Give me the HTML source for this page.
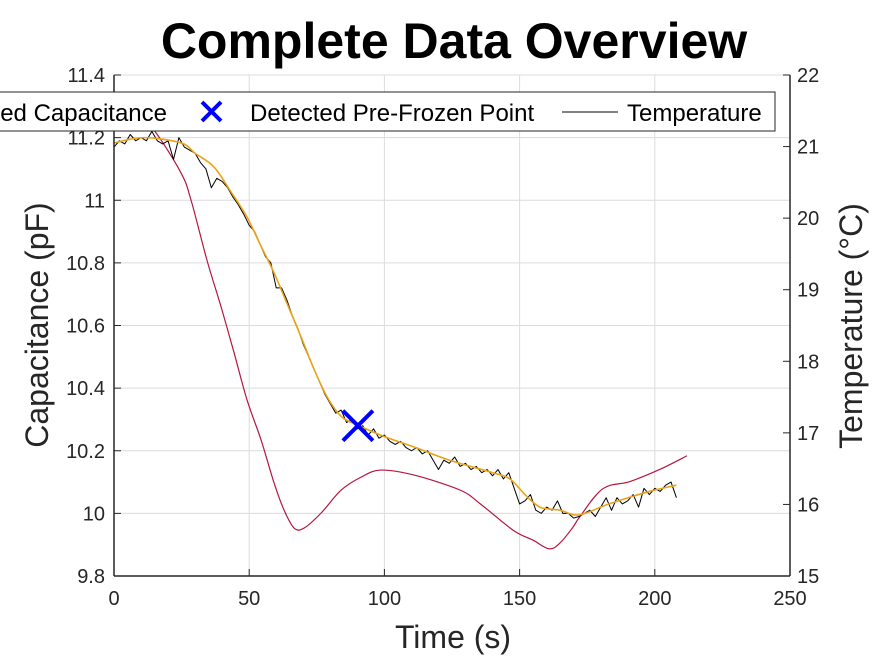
<!DOCTYPE html>
<html><head><meta charset="utf-8"><style>
body{margin:0;background:#fff;}
svg{display:block;font-family:"Liberation Sans",Arial,sans-serif;}
</style></head><body>
<svg id="chart" width="875" height="656" viewBox="0 0 875 656"></svg>
<script>
const xTicks=[0,50,100,150,200,250];
const yLeftTicks=[9.8,10,10.2,10.4,10.6,10.8,11,11.2,11.4];
const yLeftLabels=["9.8","10","10.2","10.4","10.6","10.8","11","11.2","11.4"];
const yRightTicks=[15,16,17,18,19,20,21,22];
const rawTime=[];
for(let i=0;i<=104;i++)rawTime.push(i*2);
const rawCap=[11.17,11.19,11.18,11.21,11.19,11.20,11.19,11.22,11.19,11.18,11.19,11.13,11.20,11.17,11.16,11.15,11.12,11.10,11.04,11.07,11.06,11.04,11.01,10.985,10.955,10.92,10.90,10.86,10.82,10.80,10.72,10.72,10.68,10.63,10.59,10.54,10.50,10.46,10.42,10.38,10.35,10.32,10.33,10.29,10.30,10.27,10.28,10.25,10.27,10.24,10.25,10.23,10.22,10.23,10.21,10.20,10.21,10.19,10.20,10.17,10.14,10.17,10.16,10.18,10.15,10.16,10.14,10.15,10.13,10.14,10.12,10.14,10.11,10.13,10.08,10.03,10.04,10.06,10.01,10.00,10.02,10.01,10.04,10.00,10.00,9.985,9.99,10.00,10.01,9.99,10.02,10.05,10.01,10.05,10.03,10.04,10.06,10.02,10.08,10.06,10.08,10.07,10.09,10.10,10.05];
const smoothTime=[0,11,24.8,30,37,43,49.2,54,59.2,64,69.2,74,78.8,84,89.8,100,111,124,140,146.4,152,157.5,165,172,183,198,208];
const smoothCap=[11.183,11.20,11.183,11.15,11.106,11.03,10.946,10.86,10.768,10.67,10.563,10.46,10.372,10.31,10.283,10.245,10.212,10.17,10.13,10.11,10.06,10.02,10.01,9.995,10.03,10.07,10.09];
const tempTime=[0,8,14.8,24.8,28.5,34.4,39.6,44.4,49.2,54.4,59.2,62.9,66.6,70.3,76.6,84,91.3,98.7,111,128,135.4,147.6,155,160.9,164.9,169.7,172.3,180.8,190.8,201.9,211.9];
const tempVal=[21.6,21.45,21.23,20.63,20.25,19.41,18.76,18.12,17.46,16.90,16.30,15.92,15.67,15.67,15.88,16.20,16.38,16.48,16.41,16.2,16.01,15.64,15.50,15.38,15.46,15.68,15.83,16.22,16.32,16.49,16.68];
const markerTime=[90.2];
const markerCap=[10.28];

const L=114,R=790,T=75,B=576;
const X=t=>L+(t-0)/250*(R-L);
const YL=v=>B-(v-9.8)/1.6*(B-T);
const YR=v=>B-(v-15)/7*(B-T);
const svg=document.getElementById('chart');
const NS='http://www.w3.org/2000/svg';
function mk(tag,attrs,parent){const e=document.createElementNS(NS,tag);for(const k in attrs)e.setAttribute(k,attrs[k]);(parent||svg).appendChild(e);return e;}

const grid=mk('g',{});


xTicks.forEach(t=>mk('line',{x1:X(t),x2:X(t),y1:T,y2:B,stroke:'#dcdcdc','stroke-width':1},grid));
yLeftTicks.forEach(v=>mk('line',{x1:L,x2:R,y1:YL(v),y2:YL(v),stroke:'#dcdcdc','stroke-width':1},grid));

function poly(xs,ys,fy,color,w,name){
  const p=mk('polyline',{points:xs.map((t,i)=>X(t)+','+fy(ys[i])).join(' '),fill:'none',stroke:color,'stroke-width':w,'stroke-linejoin':'round'});
  
  
}
function curve(xs,ys,fy,color,w,name){
  const pts=xs.map((t,i)=>[X(t),fy(ys[i])]);
  let d='M'+pts[0][0]+','+pts[0][1];
  for(let i=0;i<pts.length-1;i++){
    const p0=pts[Math.max(0,i-1)],p1=pts[i],p2=pts[i+1],p3=pts[Math.min(pts.length-1,i+2)];
    const c1=[p1[0]+(p2[0]-p0[0])/6,p1[1]+(p2[1]-p0[1])/6];
    const c2=[p2[0]-(p3[0]-p1[0])/6,p2[1]-(p3[1]-p1[1])/6];
    d+=' C'+c1.join(',')+' '+c2.join(',')+' '+p2.join(',');
  }
  const p=mk('path',{d:d,fill:'none',stroke:color,'stroke-width':w});
  
  
}
curve(tempTime,tempVal,YR,'#b5163f',1.2,'temperature-line');
poly(rawTime,rawCap,YL,'#000',1,'raw-capacitance-line');
curve(smoothTime,smoothCap,YL,'#e8a317',1.6,'smoothed-capacitance-line');

const mg=mk('g',{});


markerTime.forEach((t,i)=>{const cx=X(t),cy=YL(markerCap[i]),s=15;
  mk('line',{x1:cx-s,y1:cy-s,x2:cx+s,y2:cy+s,stroke:'#0000ff','stroke-width':4},mg);
  mk('line',{x1:cx-s,y1:cy+s,x2:cx+s,y2:cy-s,stroke:'#0000ff','stroke-width':4},mg);});

const ax=mk('g',{});


mk('line',{x1:L,x2:L,y1:T,y2:B,stroke:'#262626','stroke-width':1.5},ax);
mk('line',{x1:R,x2:R,y1:T,y2:B,stroke:'#262626','stroke-width':1.5},ax);
mk('line',{x1:L,x2:R,y1:B,y2:B,stroke:'#262626','stroke-width':1.5},ax);
xTicks.forEach(t=>{mk('line',{x1:X(t),x2:X(t),y1:B,y2:B-7,stroke:'#262626'},ax);
  const tx=mk('text',{x:X(t),y:B+29,'text-anchor':'middle','font-size':20,fill:'#262626'},ax);tx.textContent=t;});
yLeftTicks.forEach((v,i)=>{mk('line',{x1:L,x2:L+7,y1:YL(v),y2:YL(v),stroke:'#262626'},ax);
  const tx=mk('text',{x:L-9,y:YL(v)+7,'text-anchor':'end','font-size':20,fill:'#262626'},ax);tx.textContent=yLeftLabels[i];});
yRightTicks.forEach(v=>{mk('line',{x1:R,x2:R-7,y1:YR(v),y2:YR(v),stroke:'#262626'},ax);
  const tx=mk('text',{x:R+7,y:YR(v)+7,'text-anchor':'start','font-size':20,fill:'#262626'},ax);tx.textContent=v;});

function label(x,y,txt,size,name,extra){const t=mk('text',Object.assign({x:x,y:y,'text-anchor':'middle','font-size':size,fill:'#262626'},extra||{}));t.textContent=txt;
  
  }
label(453,648,'Time (s)',32,'x-axis-title');
label(48,325,'Capacitance (pF)',32,'y-axis-left-title',{transform:'rotate(-90 48 325)'});
label(862,326,'Temperature (°C)',32,'y-axis-right-title',{transform:'rotate(-90 862 326)'});
label(454,58,'Complete Data Overview',50,'chart-title',{'font-weight':'bold',fill:'#000'});

const lg=mk('g',{});


mk('rect',{x:-200,y:92,width:975,height:39,fill:'#fff',stroke:'#262626','stroke-width':1},lg);
const l1=mk('text',{x:167,y:121,'text-anchor':'end','font-size':24,fill:'#000'},lg);l1.textContent='Smoothed Capacitance';
mk('line',{x1:202,y1:102,x2:221,y2:121,stroke:'#0000ff','stroke-width':4},lg);
mk('line',{x1:202,y1:121,x2:221,y2:102,stroke:'#0000ff','stroke-width':4},lg);
const l2=mk('text',{x:250,y:121,'font-size':24,fill:'#000'},lg);l2.textContent='Detected Pre-Frozen Point';
mk('line',{x1:562,y1:112,x2:618,y2:112,stroke:'#000','stroke-width':1},lg);
const l3=mk('text',{x:627,y:121,'font-size':24,fill:'#000'},lg);l3.textContent='Temperature';
</script>
</body></html>
